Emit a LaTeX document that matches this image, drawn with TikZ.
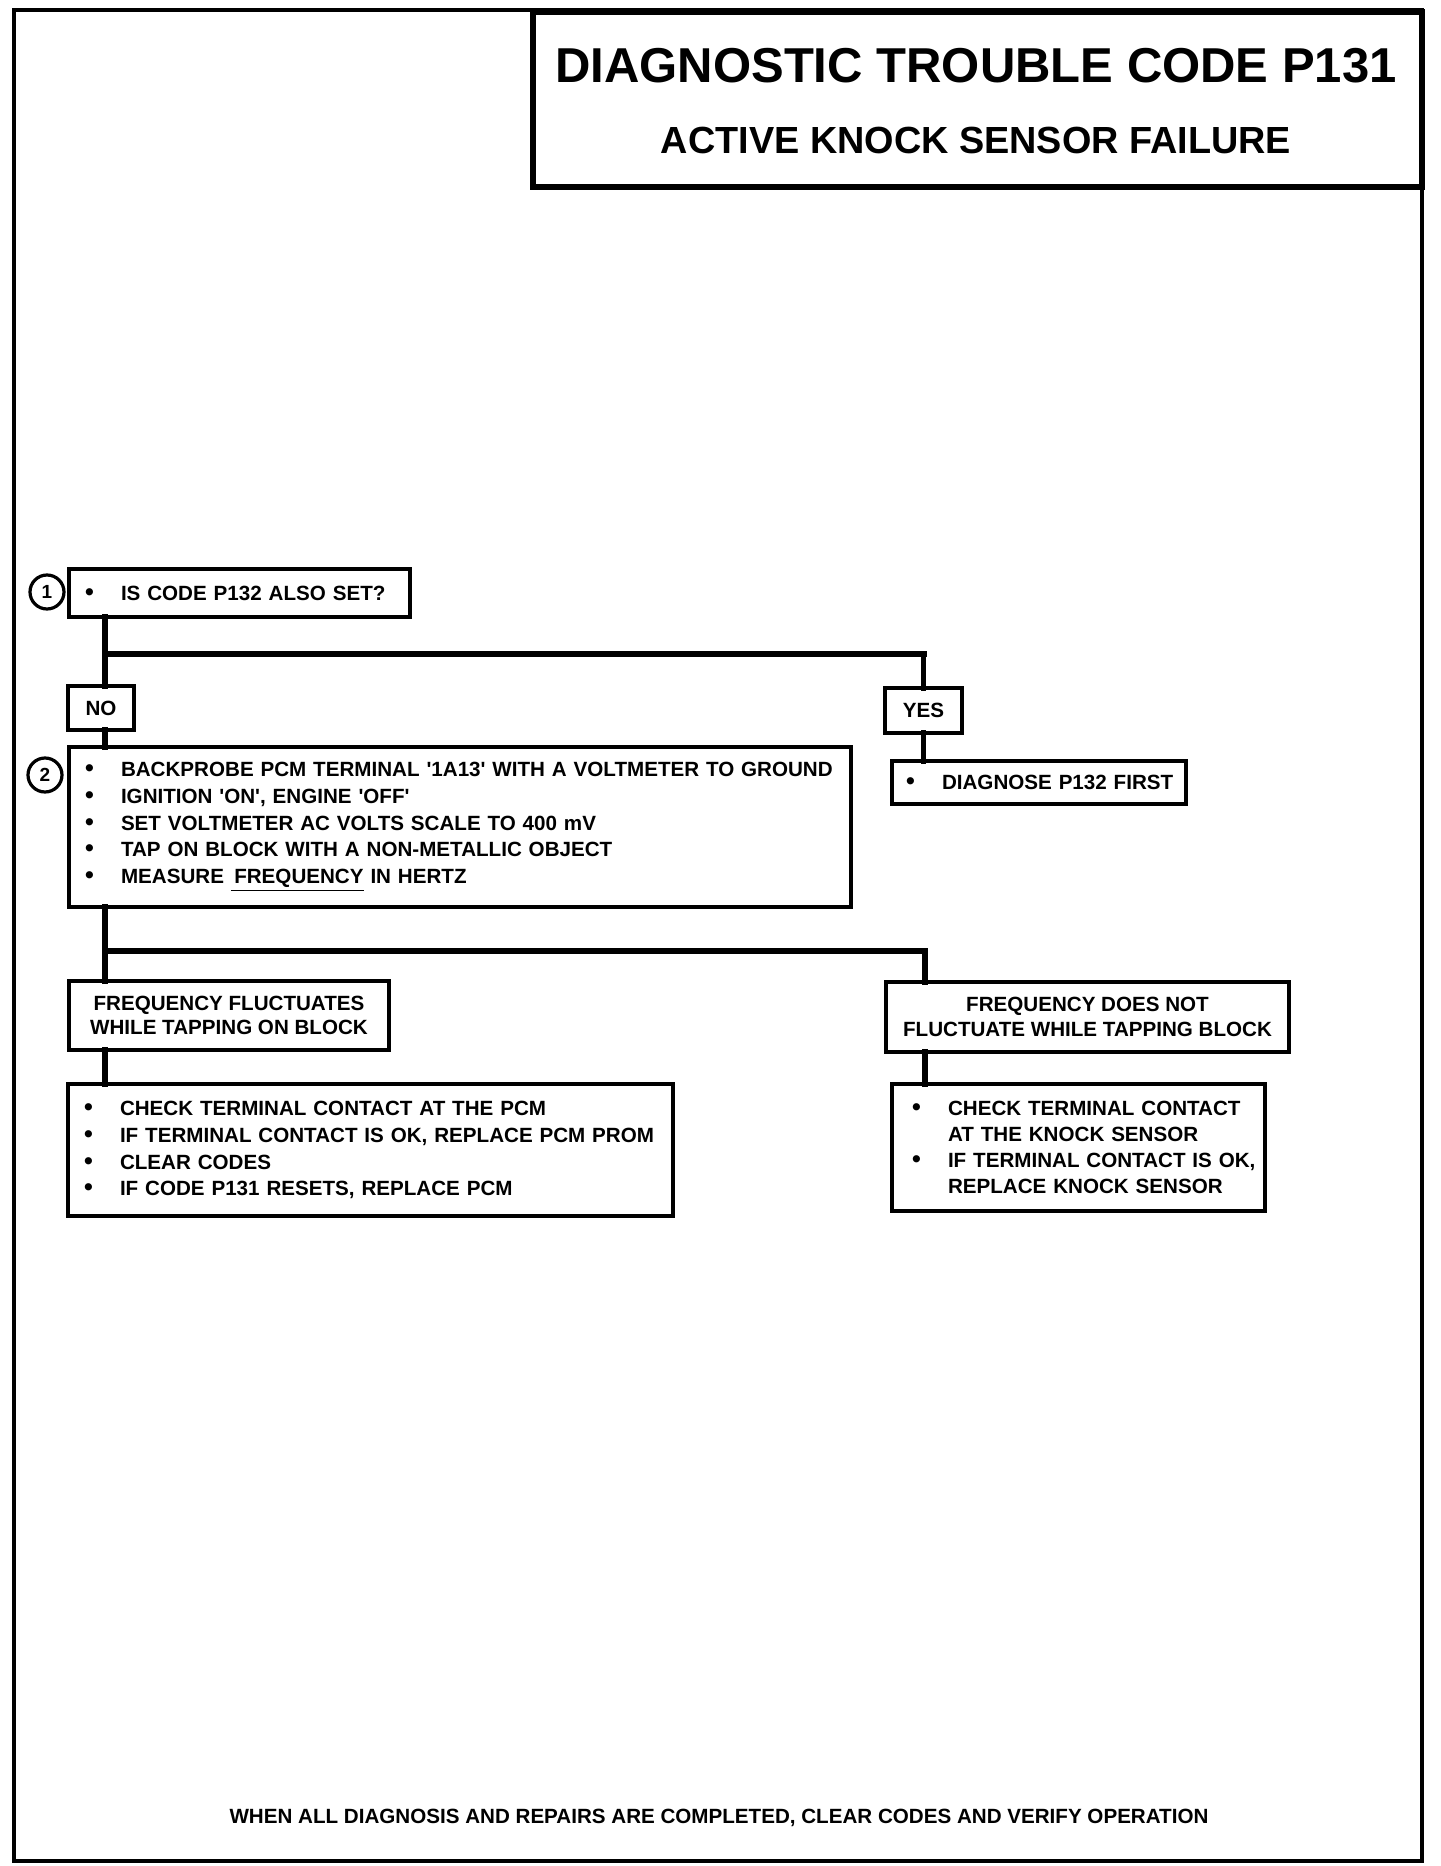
\documentclass[tikz,border=0pt]{standalone}
\usepackage{fontspec}
\setmainfont{Liberation Sans}
\usetikzlibrary{positioning}

\newcommand{\itm}{\makebox[18pt][l]{\fontsize{12.5}{0}\selectfont\textbullet}}
\newcommand{\q}{\textquotesingle}

\tikzset{
  box/.style={draw, line width=1.8pt, outer sep=0pt, anchor=north west, inner xsep=8pt, inner ysep=0pt,
              align=left, font=\fontsize{10.3}{13.4}\selectfont\bfseries},
  tagbox/.style={draw, line width=1.8pt, outer sep=0pt, anchor=north west, inner sep=0pt, align=center,
              font=\fontsize{10.3}{12.3}\selectfont\bfseries},
  stepno/.style={draw, circle, line width=1.6pt, minimum size=17pt, inner sep=0pt,
              font=\fontsize{9.5}{9.5}\selectfont\bfseries},
  link/.style={line width=2.6pt, line cap=rect},
  bar/.style={line width=3.3pt, line cap=rect},
}

\begin{document}
\begin{tikzpicture}[x=0.5pt, y=-0.5pt]

  \useasboundingbox (0,0) rectangle (1440,1866);

  % page frame
  \draw[line width=2.2pt] (14,10) rectangle (1422,1861);

  % title block
  \node[draw, line width=3pt, outer sep=0pt, anchor=north west, minimum width=444.5pt, minimum height=87.5pt] (title) at (533,12) {};
  \node[font=\fontsize{24.5}{24.5}\selectfont\bfseries] (t1) at (976,66) {DIAGNOSTIC TROUBLE CODE P131};
  \node[font=\fontsize{18.9}{18.9}\selectfont\bfseries] (t2) at (976,140) {ACTIVE KNOCK SENSOR FAILURE};

  % step 1
  \node[stepno] (n1) at (47,592) {1};
  \node[box, text width=154.5pt, minimum height=24pt] (q1) at (69,569) {\itm IS CODE P132 ALSO SET?};

  % answers to step 1
  \node[tagbox, minimum width=33pt, minimum height=22pt] (no) at (68,686) {NO};
  \node[tagbox, minimum width=38.5pt, minimum height=22.5pt] (yes) at (885,688) {YES};
  \node[box, inner xsep=7pt, text width=133pt, minimum height=21.5pt] (diag) at (892,761) {\mbox{\itm DIAGNOSE P132 FIRST}};

  % step 2
  \node[stepno] (n2) at (45,775) {2};
  \node[box, text width=375pt, minimum height=80pt] (s2) at (69,747) {%
    \itm BACKPROBE PCM TERMINAL \q1A13\q{} WITH A VOLTMETER TO GROUND\\
    \itm IGNITION \q ON\q, ENGINE \q OFF\q\\
    \itm SET VOLTMETER AC VOLTS SCALE TO 400 mV\\
    \itm TAP ON BLOCK WITH A NON-METALLIC OBJECT\\
    \itm MEASURE \underline{\,FREQUENCY} IN HERTZ};

  % answers to step 2
  \node[tagbox, minimum width=160pt, minimum height=34.5pt] (ff) at (69,981) {FREQUENCY FLUCTUATES\\WHILE TAPPING ON BLOCK};
  \node[tagbox, minimum width=201.5pt, minimum height=35pt] (fdnf) at (886,982) {FREQUENCY DOES NOT\\FLUCTUATE WHILE TAPPING BLOCK};

  \node[box, text width=286.5pt, minimum height=66pt] (fa) at (68,1084) {%
    \itm CHECK TERMINAL CONTACT AT THE PCM\\
    \itm IF TERMINAL CONTACT IS OK, REPLACE PCM PROM\\
    \itm CLEAR CODES\\
    \itm IF CODE P131 RESETS, REPLACE PCM};
  \node[box, inner xsep=10pt, text width=166.5pt, minimum height=63.5pt,
        font=\fontsize{10.3}{12.9}\selectfont\bfseries] (fb) at (892,1084) {%
    \mbox{\itm CHECK TERMINAL CONTACT}\\
    \mbox{\hspace*{18pt}AT THE KNOCK SENSOR}\\
    \mbox{\itm IF TERMINAL CONTACT IS OK,}\\
    \mbox{\hspace*{18pt}REPLACE KNOCK SENSOR}};

  % connectors
  \coordinate (j1) at (105,654);
  \coordinate (j2) at (105,951);
  \coordinate (j3) at (925,951);

  \draw[link] (q1.south -| j1) -- (no.north -| j1);
  \draw[link] (no.south -| j1) -- (s2.north -| j1);
  \draw[bar] (j1) -- (j1 -| yes.north);
  \draw[link] (j1 -| yes.north) -- (yes.north);
  \draw[link] (yes.south) -- (yes.south |- diag.north);

  \draw[link] (s2.south -| j2) -- (ff.north -| j2);
  \draw[bar] (j2) -- (j3);
  \draw[link] (j3) -- (j3 |- fdnf.north);
  \draw[link] (ff.south -| j2) -- (fa.north -| j2);
  \draw[link] (fdnf.south -| j3) -- (fb.north -| j3);

  % footer
  \node[anchor=base, font=\fontsize{10.3}{12}\selectfont\bfseries] (foot) at (719,1823)
    {WHEN ALL DIAGNOSIS AND REPAIRS ARE COMPLETED, CLEAR CODES AND VERIFY OPERATION};

\end{tikzpicture}
\end{document}
